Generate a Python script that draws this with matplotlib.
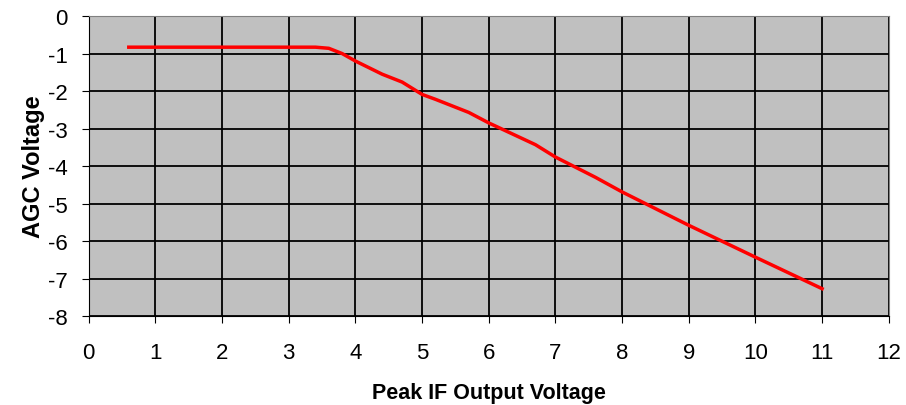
import matplotlib
matplotlib.use("Agg")
import matplotlib.pyplot as plt

x_vals = [0.6, 1.0, 2.0, 3.0, 3.4, 3.6, 3.8, 4.0, 4.4, 4.7, 5.0, 5.2, 5.7, 6.0, 6.7, 7.0, 7.6, 8.0, 9.0, 10.0, 11.0]
y_vals = [-0.83, -0.83, -0.83, -0.83, -0.83, -0.86, -1.0, -1.2, -1.55, -1.76, -2.09, -2.22, -2.57, -2.85, -3.43, -3.76, -4.3, -4.69, -5.58, -6.43, -7.27]
x_ticks = list(range(0, 13))
y_ticks = list(range(-8, 1))

plt.rcParams['font.family'] = ['Liberation Sans', 'DejaVu Sans']
plt.rcParams['axes.unicode_minus'] = False

fig = plt.figure(figsize=(9.06, 4.06), dpi=100)
ax = fig.add_axes([0.098, 0.219, 0.883, 0.739])
ax.set_facecolor('#C0C0C0')
ax.plot(x_vals, y_vals, color='#FF0000', linewidth=2.5, zorder=3)
ax.set_xlim(0, 12)
ax.set_ylim(-8, 0)
ax.set_xticks(x_ticks)
ax.set_yticks(y_ticks)
ax.grid(True, color='black', linewidth=1.3, zorder=1)
ax.set_axisbelow(True)
for side in ['top', 'right']:
    ax.spines[side].set_color('#808080')
for side in ['left', 'bottom']:
    ax.spines[side].set_color('black')
ax.tick_params(axis='both', labelsize=16, length=5, color='black', direction='out')
ax.tick_params(axis='x', pad=14)
ax.tick_params(axis='y', pad=10)
ax.set_xlabel('Peak IF Output Voltage', fontsize=15.5, fontweight='bold', labelpad=13)
ax.set_ylabel('AGC Voltage', fontsize=17, fontweight='bold', labelpad=2)
fig.savefig('out.png', dpi=100)
